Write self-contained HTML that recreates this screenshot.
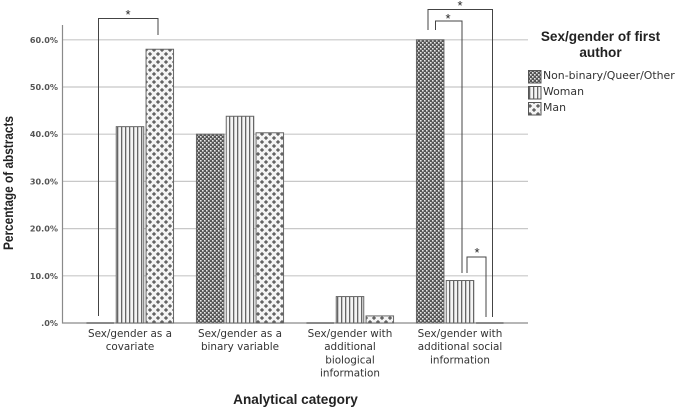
<!DOCTYPE html>
<html>
<head>
<meta charset="utf-8">
<style>
html,body{margin:0;padding:0;background:#fff;width:676px;height:409px;overflow:hidden}
svg{display:block;filter:blur(0.35px)}
text{font-family:"DejaVu Sans","Liberation Sans",sans-serif;fill:#3a3a3a}
.tick{font-size:8.1px;font-weight:bold;fill:#555;text-anchor:end}
.cat{font-size:10.4px;text-anchor:middle;fill:#333}
.title{font-family:"Liberation Sans",sans-serif;font-weight:bold;font-size:13.6px;fill:#222}
.leg{font-size:10.9px;fill:#333}
.star{font-family:"Liberation Sans",sans-serif;font-size:13px;text-anchor:middle;fill:#222}
</style>
</head>
<body>
<svg id="chart" width="676" height="409" viewBox="0 0 676 409" xmlns="http://www.w3.org/2000/svg">
<defs>
<pattern id="p-nb" patternUnits="userSpaceOnUse" width="4" height="4">
<rect width="4" height="4" fill="#555"/>
<rect x="0" y="0" width="1.6" height="1.6" fill="#e8e8e8"/>
<rect x="2" y="2" width="1.6" height="1.6" fill="#e8e8e8"/>
</pattern>
<pattern id="p-woman" patternUnits="userSpaceOnUse" width="4" height="4">
<rect width="4" height="4" fill="#f4f4f4"/>
<rect x="1" width="1.3" height="4" fill="#666"/>
</pattern>
<pattern id="p-man" patternUnits="userSpaceOnUse" width="8" height="8">
<rect width="8" height="8" fill="#f4f4f4"/>
<path d="M2 0.2v3.6M0.2 2h3.6M6 4.2v3.6M4.2 6h3.6" stroke="#5a5a5a" stroke-width="1.5" fill="none"/>
</pattern>
</defs>
<g id="grid"></g>
<g id="axes"></g>
<g id="bars"></g>
<g id="brackets" fill="none" stroke="#444" stroke-width="1">
<path d="M98.5 316V18.5H158V35"/>
<path d="M428 30V9.5H492.5V317"/>
<path d="M435.5 30V21H462V273"/>
<path d="M467 273V257H486V317"/>
</g>
<text class="star" x="128" y="19">*</text>
<text class="star" x="460" y="10">*</text>
<text class="star" x="448" y="23">*</text>
<text class="star" x="477" y="257">*</text>
<text class="title" transform="translate(13,183) rotate(-90)" text-anchor="middle" textLength="134" lengthAdjust="spacingAndGlyphs">Percentage of abstracts</text>
<text class="title" x="295.5" y="404" text-anchor="middle">Analytical category</text>
<g>
<text class="title" x="600.5" y="41" text-anchor="middle">Sex/gender of first</text>
<text class="title" x="600.5" y="57" text-anchor="middle">author</text>
<rect x="528.5" y="70.5" width="12.5" height="12.5" fill="url(#p-nb)" stroke="#555"/>
<text class="leg" x="543" y="79">Non-binary/Queer/Other</text>
<rect x="528.5" y="86.5" width="12.5" height="12.5" fill="url(#p-woman)" stroke="#555"/>
<text class="leg" x="543" y="95">Woman</text>
<rect x="528.5" y="102.5" width="12.5" height="12.5" fill="url(#p-man)" stroke="#555"/>
<text class="leg" x="543" y="111">Man</text>
</g>
</svg>
<script>
const categories = [
  ["Sex/gender as a", "covariate"],
  ["Sex/gender as a", "binary variable"],
  ["Sex/gender with", "additional", "biological", "information"],
  ["Sex/gender with", "additional social", "information"]
];
const nonBinary = [0, 40.0, 0, 60.0];
const woman = [41.6, 43.8, 5.6, 9.0];
const man = [58.0, 40.3, 1.5, 0];
const yTicks = [0, 10, 20, 30, 40, 50, 60];
const yTickLabels = [".0%", "10.0%", "20.0%", "30.0%", "40.0%", "50.0%", "60.0%"];

const NS = "http://www.w3.org/2000/svg";
const yOf = v => 323 - v * 4.72;
const groupX = i => 130 + i * 110;
const barW = 27.5, barStep = 29.8;

function make(tag, parent) {
  const el = document.createElementNS(NS, tag);
  parent.appendChild(el);
  return el;
}

const gridG = document.getElementById("grid");
const axesG = document.getElementById("axes");
const barsG = document.getElementById("bars");

yTicks.forEach((t, i) => {
  const y = yOf(t);
  if (t > 0) {
    const line = make("line", gridG);
    
    
    line.setAttribute("x1", 62);
    line.setAttribute("x2", 528);
    line.setAttribute("y1", y);
    line.setAttribute("y2", y);
    line.setAttribute("stroke", "#c8c8c8");
    line.setAttribute("stroke-width", "1.2");
  }
  const label = make("text", axesG);
  
  
  label.setAttribute("class", "tick");
  label.setAttribute("x", 58);
  label.setAttribute("y", y + 3);
  label.textContent = yTickLabels[i];
});

const yAxis = make("path", axesG);


yAxis.setAttribute("d", "M62.5 25V323H528");
yAxis.setAttribute("fill", "none");
yAxis.setAttribute("stroke", "#8a8a8a");
yAxis.setAttribute("stroke-width", "1.2");

const seriesList = [
  { values: nonBinary, fill: "url(#p-nb)" },
  { values: woman, fill: "url(#p-woman)" },
  { values: man, fill: "url(#p-man)" }
];

seriesList.forEach((s, si) => {
  s.values.forEach((v, ci) => {
    const x = groupX(ci) + (si - 1) * barStep - barW / 2;
    const h = Math.max(0, 323 - yOf(v));
    if (h > 0) {
      const bar = make("rect", barsG);
      
      
      bar.setAttribute("x", x);
      bar.setAttribute("y", yOf(v));
      bar.setAttribute("width", barW);
      bar.setAttribute("height", h);
      bar.setAttribute("fill", s.fill);
      bar.setAttribute("stroke", "#666");
      bar.setAttribute("stroke-width", "1");
    } else {
      const zero = make("line", barsG);
      
      
      zero.setAttribute("x1", x);
      zero.setAttribute("x2", x + barW);
      zero.setAttribute("y1", yOf(v));
      zero.setAttribute("y2", yOf(v));
      zero.setAttribute("stroke", "#555");
      zero.setAttribute("stroke-width", "1.2");
    }
  });
});

categories.forEach((lines, i) => {
  lines.forEach((ln, j) => {
    const label = make("text", axesG);
    
    
    label.setAttribute("class", "cat");
    label.setAttribute("x", groupX(i));
    label.setAttribute("y", 337 + j * 13.2);
    label.textContent = ln;
  });
});
</script>
</body>
</html>
